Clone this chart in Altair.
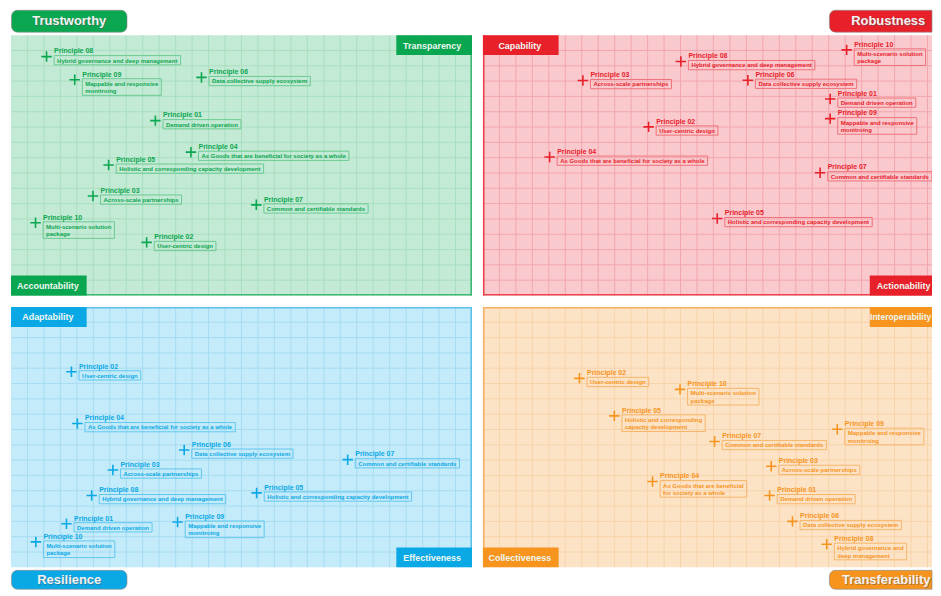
import altair as alt
import pandas as pd

# ---------------- data ----------------
principles = ["Principle 01", "Principle 02", "Principle 03", "Principle 04", "Principle 05",
              "Principle 06", "Principle 07", "Principle 08", "Principle 09", "Principle 10"]

descriptions = [
    "Demand driven operation",
    "User-centric design",
    "Across-scale partnerships",
    "As Goods that are beneficial for society as a whole",
    "Holistic and corresponding capacity development",
    "Data collective supply ecosystem",
    "Common and certifiable standards",
    "Hybrid governance and deep management",
    "Mappable and responsive\nmonitroing",
    "Multi-scenario solution\npackage",
]
descriptions_transfer = [
    "Demand driven operation",
    "User-centric design",
    "Across-scale partnerships",
    "As Goods that are beneficial\nfor society as a whole",
    "Holistic and corresponding\ncapacity development",
    "Data collective supply ecosystem",
    "Common and certifiable standards",
    "Hybrid governance and\ndeep management",
    "Mappable and responsive\nmonitroing",
    "Multi-scenario solution\npackage",
]

# positions in grid units (x: cells from the left, y: cells from the bottom), order Principle 01..10
trust_x = [8.77, 8.24, 4.98, 10.93, 5.93, 11.57, 14.90, 2.16, 3.87, 1.49]
trust_y = [11.42, 3.47, 6.50, 9.36, 8.52, 14.24, 5.92, 15.60, 14.09, 4.75]

robust_x = [21.09, 10.06, 6.07, 4.05, 14.23, 16.09, 20.48, 12.02, 21.09, 22.09]
robust_y = [12.83, 11.01, 14.04, 9.04, 5.03, 14.06, 8.02, 15.28, 11.55, 16.04]

resil_x = [3.37, 3.67, 6.19, 4.03, 14.92, 10.52, 20.45, 4.90, 10.12, 1.51]
resil_y = [2.85, 12.77, 6.36, 9.39, 4.86, 7.66, 7.03, 4.69, 2.96, 1.66]

transf_x = [17.41, 5.86, 17.51, 10.30, 7.98, 18.80, 14.07, 20.88, 21.52, 11.97]
transf_y = [4.69, 12.34, 6.60, 5.60, 9.89, 3.00, 8.22, 1.51, 9.02, 11.62]

pill_titles = ["Trustworthy", "Robustness", "Resilience", "Transferability"]
corner_labels = [
    ["Transparency", "Accountability"],
    ["Capability", "Actionability"],
    ["Adaptability", "Effectiveness"],
    ["Interoperability", "Collectiveness"],
]

grid_x = list(range(1, 28))
grid_y = list(range(1, 17))

# ---------------- styling ----------------
W_LEFT, W_RIGHT, H = 463, 451, 261.5
NX, NY = 28, 17
PX, PY = W_LEFT / NX, H / NY
LW, LH = 76, 20
FONT = "Liberation Sans"
DESC_SIZE = 6
TITLE_SIZE = 7

ARIAL_BOLD = {
    " ": 278, "-": 333, ".": 278,
    "A": 722, "B": 722, "C": 722, "D": 722, "E": 667, "F": 611, "G": 778, "H": 722, "I": 278,
    "J": 556, "K": 722, "L": 611, "M": 833, "N": 722, "O": 778, "P": 667, "Q": 778, "R": 722,
    "S": 667, "T": 611, "U": 722, "V": 667, "W": 944, "X": 667, "Y": 667, "Z": 611,
    "a": 556, "b": 611, "c": 556, "d": 611, "e": 556, "f": 333, "g": 611, "h": 611, "i": 278,
    "j": 278, "k": 556, "l": 278, "m": 889, "n": 611, "o": 611, "p": 611, "q": 611, "r": 389,
    "s": 556, "t": 333, "u": 611, "v": 556, "w": 778, "x": 556, "y": 556, "z": 500,
}


def text_width(s, size):
    return sum(ARIAL_BOLD.get(c, 556) for c in s) * size / 1000.0


def principle_frame(xs, ys, descs):
    rows = []
    for p, x, y, d in zip(principles, xs, ys, descs):
        lines = d.split("\n")
        w = max(text_width(l, DESC_SIZE) for l in lines)
        rows.append(dict(
            principle=p, x=x, y=y, desc=d,
            bx1=x + 7.6 / PX, bx2=x + (7.6 + w + 6.0) / PX,
            by1=y + 1.0 / PY, by2=y - (8.3 + 7.4 * (len(lines) - 1)) / PY,
        ))
    return pd.DataFrame(rows)


def panel(W, xs, ys, descs, labels, pill, strong, fill, grid, border, boxc,
          top_side, bottom_side, borders, pill_vert, pill_side):
    df = principle_frame(xs, ys, descs)
    xsc = alt.Scale(domain=[0, W / PX], nice=False, zero=False)
    ysc = alt.Scale(domain=[0, NY], nice=False, zero=False)
    X = alt.X("x:Q", scale=xsc, axis=None)
    Y = alt.Y("y:Q", scale=ysc, axis=None)

    layers = []

    # grid
    layers.append(alt.Chart(pd.DataFrame({"g": grid_x})).mark_rule(color=grid, strokeWidth=1).encode(
        x=alt.X("g:Q", scale=xsc, axis=None), y=alt.value(0), y2=alt.value(H)))
    layers.append(alt.Chart(pd.DataFrame({"g": grid_y})).mark_rule(color=grid, strokeWidth=1).encode(
        y=alt.Y("g:Q", scale=ysc, axis=None), x=alt.value(0), x2=alt.value(W)))

    # inner borders
    bdf = pd.DataFrame({"k": [0]})
    for side in borders:
        if side == "right":
            enc = dict(x=alt.value(W - 0.8), y=alt.value(0), y2=alt.value(H))
        elif side == "left":
            enc = dict(x=alt.value(0.8), y=alt.value(0), y2=alt.value(H))
        elif side == "top":
            enc = dict(y=alt.value(0.8), x=alt.value(0), x2=alt.value(W))
        else:
            enc = dict(y=alt.value(H - 0.8), x=alt.value(0), x2=alt.value(W))
        layers.append(alt.Chart(bdf).mark_rule(color=border, strokeWidth=1.6).encode(**enc))

    # corner labels
    for lab, vert, side in [(labels[0], "top", top_side), (labels[1], "bottom", bottom_side)]:
        if side == "right":
            if W == W_LEFT:
                x0, x1, cx, fs = W - LW, W, W - LW + 36, 9
            else:
                x0, x1 = 388.5, W
                cx, fs = (419.5, 8.5) if len(lab) > 14 else (422.5, 9)
        else:
            x0, x1, cx, fs = 0, LW, 37, 9
        y0 = 0 if vert == "top" else H - LH
        ldf = pd.DataFrame({"label": [lab]})
        layers.append(alt.Chart(ldf).mark_rect(color=strong).encode(
            x=alt.value(x0), x2=alt.value(x1), y=alt.value(y0), y2=alt.value(y0 + LH)))
        layers.append(alt.Chart(ldf).mark_text(
            color="#eef7f1", font=FONT, fontSize=fs, fontWeight="bold", align="center",
            baseline="middle", clip=True).encode(
            x=alt.value(cx), y=alt.value(y0 + LH / 2 + 0.5), text="label:N"))

    # pill title outside the panel
    if pill_side == "left":
        px0, px1, pcx = 0.5, 116.5, 58.5
        rad = dict(cornerRadius=6)
    else:
        px0, px1 = 348, W
        pcx = 405 if len(pill) > 12 else 407
        rad = dict(cornerRadiusTopLeft=6, cornerRadiusBottomLeft=6)
    if pill_vert == "top":
        py0, py1 = -25, -3
    else:
        py0, py1 = H + 3, H + 22
    pdf = pd.DataFrame({"label": [pill]})
    layers.append(alt.Chart(pdf).mark_rect(color=strong, stroke="#8a8a8a",
                                           strokeWidth=0.8, strokeOpacity=0.8, **rad).encode(
        x=alt.value(px0), x2=alt.value(px1), y=alt.value(py0), y2=alt.value(py1)))
    layers.append(alt.Chart(pdf).mark_text(
        color="#555555", opacity=0.45, font=FONT, fontSize=13, fontWeight="bold",
        align="center", baseline="middle", dx=1, dy=1).encode(
        x=alt.value(pcx), y=alt.value((py0 + py1) / 2), text="label:N"))
    layers.append(alt.Chart(pdf).mark_text(
        color="#f2f2f2", font=FONT, fontSize=13, fontWeight="bold",
        align="center", baseline="middle").encode(
        x=alt.value(pcx), y=alt.value((py0 + py1) / 2), text="label:N"))

    # principle boxes, markers and texts
    base = alt.Chart(df)
    layers.append(base.mark_rect(fill="transparent", stroke=boxc, strokeWidth=1, clip=True).encode(
        x=alt.X("bx1:Q", scale=xsc, axis=None), x2="bx2:Q",
        y=alt.Y("by1:Q", scale=ysc, axis=None), y2="by2:Q"))
    layers.append(base.mark_point(shape="M-1,0L1,0M0,-1L0,1", size=110, strokeWidth=1.6,
                                  filled=False, color=strong, opacity=1).encode(x=X, y=Y))
    layers.append(base.mark_text(align="left", baseline="middle", dx=7.6, dy=-5.2,
                                 font=FONT, fontSize=TITLE_SIZE, fontWeight="bold",
                                 color=strong).encode(x=X, y=Y, text="principle:N"))
    layers.append(base.mark_text(align="left", baseline="top", dx=10.6, dy=1,
                                 font=FONT, fontSize=DESC_SIZE, fontWeight="bold",
                                 lineBreak="\n", lineHeight=7.4,
                                 color=strong).encode(x=X, y=Y, text="desc:N"))

    return alt.layer(*layers).properties(
        width=W, height=H, view=alt.ViewBackground(fill=fill, strokeWidth=0))


green = panel(W_LEFT, trust_x, trust_y, descriptions, corner_labels[0], pill_titles[0],
              strong="#0aa650", fill="#c3ead4", grid="#a9dfbf", border="#3db873", boxc="#6ccb93",
              top_side="right", bottom_side="left", borders=["right", "bottom"],
              pill_vert="top", pill_side="left")
red = panel(W_RIGHT, robust_x, robust_y, descriptions, corner_labels[1], pill_titles[1],
            strong="#e8202a", fill="#f9c9cd", grid="#f2a6ad", border="#e8434e", boxc="#ee737a",
            top_side="left", bottom_side="right", borders=["left", "bottom"],
            pill_vert="top", pill_side="right")
blue = panel(W_LEFT, resil_x, resil_y, descriptions, corner_labels[2], pill_titles[2],
             strong="#0aa9e6", fill="#c4ebf9", grid="#a6dcf2", border="#5cc2ea", boxc="#62c8f0",
             top_side="left", bottom_side="right", borders=["top", "right"],
             pill_vert="bottom", pill_side="left")
orange = panel(W_RIGHT, transf_x, transf_y, descriptions_transfer, corner_labels[3], pill_titles[3],
               strong="#f7941d", fill="#fde3c6", grid="#f6d4aa", border="#f5b263", boxc="#f7b56a",
               top_side="right", bottom_side="left", borders=["left", "top"],
               pill_vert="bottom", pill_side="right")

chart = alt.vconcat(
    alt.hconcat(green, red, spacing=9),
    alt.hconcat(blue, orange, spacing=9),
    spacing=9,
).properties(
    padding={"left": 2, "top": 0, "right": 0, "bottom": 0}
).configure_view(strokeWidth=0)

chart.save("out.html", embed_options={"renderer": "svg", "actions": False})
